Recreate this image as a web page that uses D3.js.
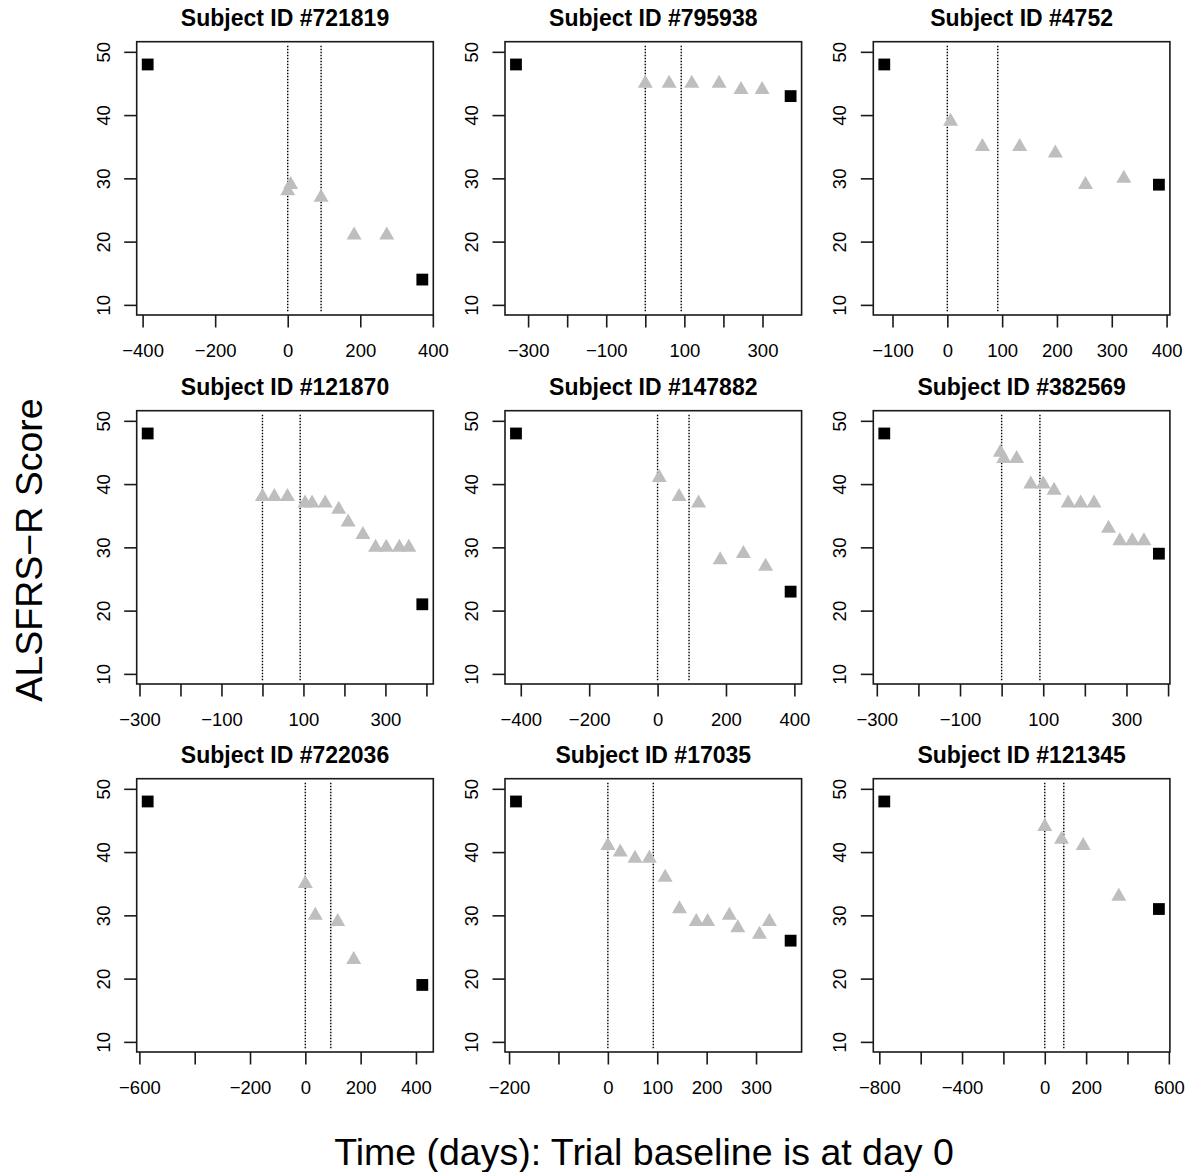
<!DOCTYPE html>
<html>
<head>
<meta charset="utf-8">
<script src="https://cdn.jsdelivr.net/npm/d3@7"></script>
<style>
  html, body { margin: 0; padding: 0; background: #fff; }
  svg { display: block; }
  text { font-family: "Liberation Sans", Arial, sans-serif; fill: #000; }
</style>
</head>
<body>
<svg id="chart" width="1189" height="1172"></svg>
<script>
// ---------------- data ----------------
const subjectIds = ["721819", "795938", "4752", "121870", "147882", "382569", "722036", "17035", "121345"];

// black squares: first and last ALSFRS-R observation outside the trial window
const squareDays = [
  [-386, 371], [-331, 372], [-115, 386],
  [-280, 390], [-414, 389], [-282, 378],
  [-570, 423], [-186, 370], [-776, 552]
];
const squareScores = [
  [48, 14], [48, 43], [48, 29],
  [48, 21], [48, 23], [48, 29],
  [48, 19], [48, 26], [48, 31]
];

// grey triangles: trial visits
const triDays = [
  [0, 8, 92, 183, 273],
  [0, 61, 119, 189, 245, 299],
  [6, 64, 132, 197, 252, 322],
  [0, 29, 61, 104, 121, 153, 186, 209, 245, 276, 302, 334, 357],
  [5, 63, 120, 183, 251, 316],
  [-3, 5, 36, 70, 100, 126, 160, 190, 222, 257, 284, 314, 342],
  [0, 36, 117, 175],
  [0, 25, 55, 84, 116, 145, 179, 202, 246, 263, 307, 327],
  [0, 81, 186, 358]
];
const triScores = [
  [28, 29, 27, 21, 21],
  [45, 45, 45, 45, 44, 44],
  [39, 35, 35, 34, 29, 30],
  [38, 38, 38, 37, 37, 37, 36, 34, 32, 30, 30, 30, 30],
  [41, 38, 37, 28, 29, 27],
  [45, 44, 44, 40, 40, 39, 37, 37, 37, 33, 31, 31, 31],
  [35, 30, 29, 23],
  [41, 40, 39, 39, 36, 31, 29, 29, 30, 28, 27, 29],
  [44, 42, 41, 33]
];

// x-axis ticks and the labels R actually printed (empty = label dropped)
const xTicks = [
  [-400, -200, 0, 200, 400],
  [-300, -200, -100, 0, 100, 200, 300],
  [-100, 0, 100, 200, 300, 400],
  [-300, -200, -100, 0, 100, 200, 300, 400],
  [-400, -200, 0, 200, 400],
  [-300, -200, -100, 0, 100, 200, 300, 400],
  [-600, -400, -200, 0, 200, 400],
  [-200, -100, 0, 100, 200, 300],
  [-800, -600, -400, -200, 0, 200, 400, 600]
];
const xTickLabels = [
  ["-400", "-200", "0", "200", "400"],
  ["-300", "", "-100", "", "100", "", "300"],
  ["-100", "0", "100", "200", "300", "400"],
  ["-300", "", "-100", "", "100", "", "300", ""],
  ["-400", "-200", "0", "200", "400"],
  ["-300", "", "-100", "", "100", "", "300", ""],
  ["-600", "", "-200", "0", "200", "400"],
  ["-200", "", "0", "100", "200", "300"],
  ["-800", "", "-400", "", "0", "200", "", "600"]
];
const yTicks = [10, 20, 30, 40, 50];
const yTickLabels = ["10", "20", "30", "40", "50"];
const landmarkDays = [0, 92];

const xAxisTitle = "Time (days): Trial baseline is at day 0";
const yAxisTitle = "ALSFRS\u2212R Score";

// ---------------- layout ----------------
const colLefts = [136.7, 505, 873.3];
const rowTops = [41.7, 410.7, 778.7];
const pw = 296.6, ph = 273.3;
const tickLen = 12.5;
const minus = s => s.replace("-", "\u2212");

const svg = d3.select("#chart");

subjectIds.forEach((id, i) => {
  const left = colLefts[i % 3], top = rowTops[Math.floor(i / 3)];
  const allX = squareDays[i].concat(triDays[i]);
  const [mn, mx] = d3.extent(allX);
  const pad = (mx - mn) * 0.04;
  const x = d3.scaleLinear().domain([mn - pad, mx + pad]).range([left, left + pw]);
  const y = d3.scaleLinear().domain([10 - 1.6, 50 + 1.6]).range([top + ph, top]);

  const g = svg.append("g");

  // title
  g.append("text")
    .attr("x", left + pw / 2).attr("y", top - 16)
    .attr("text-anchor", "middle")
    .style("font-size", "23px").style("font-weight", "bold")
    .text("Subject ID #" + id);

  // landmark dotted lines
  g.selectAll("line.lm").data(landmarkDays).enter().append("line")
    .attr("x1", d => x(d)).attr("x2", d => x(d))
    .attr("y1", y(9)).attr("y2", y(51))
    .attr("stroke", "#000").attr("stroke-width", 1.4)
    .attr("stroke-dasharray", "1.4,1.6");

  // triangles
  g.selectAll("path.tri").data(triDays[i].map((d, k) => [d, triScores[i][k]])).enter()
    .append("path")
    .attr("d", () => {
      const w = 15, h = 13;
      return `M0,${-2 * h / 3}L${w / 2},${h / 3}L${-w / 2},${h / 3}Z`;
    })
    .attr("transform", d => `translate(${x(d[0])},${y(d[1])})`)
    .attr("fill", "#bebebe");

  // squares
  const s = 11.8;
  g.selectAll("rect.sq").data(squareDays[i].map((d, k) => [d, squareScores[i][k]])).enter()
    .append("rect")
    .attr("x", d => x(d[0]) - s / 2).attr("y", d => y(d[1]) - s / 2)
    .attr("width", s).attr("height", s)
    .attr("fill", "#000");

  // box
  g.append("rect")
    .attr("x", left).attr("y", top).attr("width", pw).attr("height", ph)
    .attr("fill", "none").attr("stroke", "#1a1a1a").attr("stroke-width", 1.6);

  // x axis
  const xAxis = d3.axisBottom(x)
    .tickValues(xTicks[i])
    .tickSize(tickLen)
    .tickPadding(0)
    .tickFormat((d, k) => minus(xTickLabels[i][k]));
  const xa = g.append("g").attr("transform", `translate(0,${top + ph})`).call(xAxis);
  xa.select(".domain").remove();
  xa.selectAll(".tick line").attr("stroke", "#1a1a1a").attr("stroke-width", 1.6);
  xa.selectAll(".tick text")
    .attr("y", 42).attr("dy", null)
    .style("font-size", "18.5px").style("font-family", "'Liberation Sans', Arial, sans-serif")
    .attr("fill", "#000");

  // y axis
  const yAxis = d3.axisLeft(y)
    .tickValues(yTicks)
    .tickSize(tickLen)
    .tickFormat((d, k) => yTickLabels[k]);
  const ya = g.append("g").attr("transform", `translate(${left},0)`).call(yAxis);
  ya.select(".domain").remove();
  ya.selectAll(".tick line").attr("stroke", "#1a1a1a").attr("stroke-width", 1.6);
  ya.selectAll(".tick text")
    .attr("x", null).attr("dy", null)
    .attr("text-anchor", "middle")
    .attr("transform", "translate(-27,0) rotate(-90)")
    .style("font-size", "18.5px").style("font-family", "'Liberation Sans', Arial, sans-serif")
    .attr("fill", "#000");
});

// outer axis titles
svg.append("text")
  .attr("x", 644).attr("y", 1165)
  .attr("text-anchor", "middle")
  .style("font-size", "37.5px")
  .text(xAxisTitle);

svg.append("text")
  .attr("transform", "translate(42,550) rotate(-90)")
  .attr("text-anchor", "middle")
  .style("font-size", "37.5px")
  .text(yAxisTitle);
</script>
</body>
</html>
